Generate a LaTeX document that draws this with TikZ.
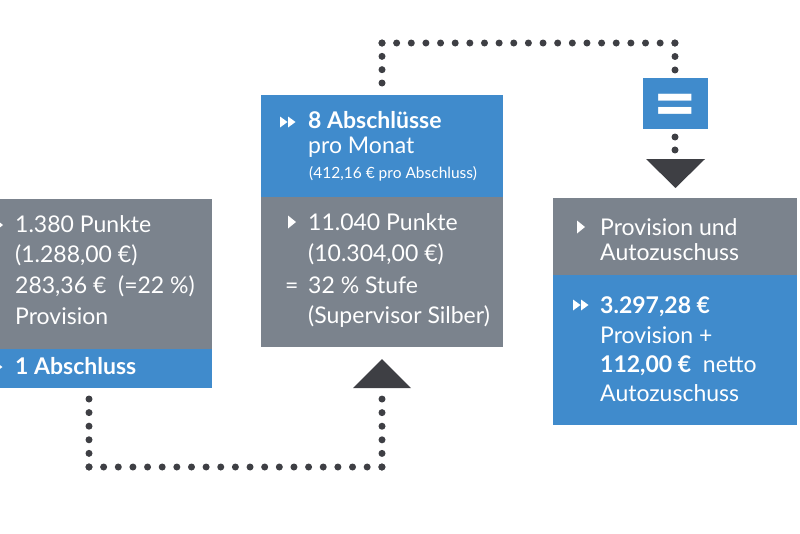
\documentclass[tikz,border=0pt]{standalone}
\usepackage{fontspec}
\setmainfont{Lato}
\usetikzlibrary{positioning,calc}
\definecolor{kblue}{RGB}{64,139,204}
\definecolor{kgray}{RGB}{123,131,141}
\definecolor{kdark}{RGB}{62,63,68}
\newcommand*{\onetri}[1]{\fill[white] ($(#1)+(0,-6.5)$) -- ++(8,6.5) -- ++(-8,6.5) -- cycle;}
\newcommand*{\twotri}[1]{\fill[white] ($(#1)+(0,-5.5)$) -- ++(7.5,5.5) -- ++(-7.5,5.5) -- cycle
  ($(#1)+(8,-5.5)$) -- ++(7.5,5.5) -- ++(-7.5,5.5) -- cycle;}

\begin{document}
\begin{tikzpicture}[x=1pt,y=-1pt,
    box/.style={rectangle,inner sep=0pt,anchor=north west},
    bluebox/.style={box,fill=kblue},
    graybox/.style={box,fill=kgray},
    txt/.style={anchor=base west,inner sep=0pt,text=white,font=\fontsize{23}{27}\selectfont},
    btxt/.style={txt,font=\fontsize{23}{27}\selectfont\bfseries},
    stxt/.style={txt,font=\fontsize{15.5}{18}\selectfont},
    dotrow/.style={draw=kdark,line width=7pt,line cap=round,dash pattern=on 0pt off #1}]
    \useasboundingbox (0,0) rectangle (800,533);

    % dotted connectors
    \coordinate (b1) at (89,399);
    \coordinate (b2) at (89,467);
    \coordinate (b3) at (382,467);
    \coordinate (b4) at (382,399);
    \draw[dotrow=13.59pt] (b1)--(b2);
    \draw[dotrow=14.64pt] (b2)--(b3);
    \draw[dotrow=13.59pt] (b3)--(b4);

    \coordinate (t1) at (382,83);
    \coordinate (t2) at (382,43);
    \coordinate (t3) at (675,43);
    \coordinate (t4) at (675,70);
    \coordinate (t5) at (675,137);
    \coordinate (t6) at (675,150);
    \draw[dotrow=13.32pt] (t1)--(t2);
    \draw[dotrow=14.64pt] (t2)--(t3);
    \draw[dotrow=13.49pt] (t3)--(t4);
    \draw[dotrow=12.99pt] (t5)--(t6);

    % triangles
    \fill[kdark] (353,388)--(411,388)--(382,359)--cycle;
    \fill[kdark] (646,159)--(705,159)--(675.5,188)--cycle;

    % left box
    \node[graybox,minimum width=252pt,minimum height=150pt] (lgray) at (-40,199) {};
    \node[bluebox,minimum width=252pt,minimum height=39pt] (lblue) at (-40,349) {};
    \onetri{-5,225}
    \twotri{-13,367}
    \node[txt] (l1) at (15,232) {1.380 Punkte};
    \node[txt] (l2) at (15,262) {(1.288,00 €)};
    \node[txt] (l3) at (15,293) {283,36 €\ \ (=22 \%)};
    \node[txt] (l4) at (15,324) {Provision};
    \node[btxt] (l5) at (15,374) {1 Abschluss};

    % middle box
    \node[bluebox,minimum width=242pt,minimum height=102pt] (mblue) at (261,95) {};
    \node[graybox,minimum width=242pt,minimum height=150pt] (mgray) at (261,197) {};
    \twotri{280,122}
    \node[btxt] (m1) at (308,128) {8 Abschlüsse};
    \node[txt] (m2) at (308,153) {pro Monat};
    \node[stxt] (m3) at (309,178) {(412,16 € pro Abschluss)};
    \onetri{288,222}
    \node[txt] (m4) at (308,230) {11.040 Punkte};
    \node[txt] (m5) at (308,261) {(10.304,00 €)};
    \node[txt] (m6) at (285,293) {=};
    \node[txt] (m7) at (308,293) {32 \% Stufe};
    \node[txt] (m8) at (308,323) {(Supervisor Silber)};

    % equals box
    \node[bluebox,minimum width=65pt,minimum height=51pt] (eq) at (643,78) {};
    \node[text=white,inner sep=0pt,font=\fontsize{75}{75}\selectfont\bfseries] (eqsign) at ($(eq.center)+(0,8)$) {=};

    % right box
    \node[graybox,minimum width=244pt,minimum height=77pt] (rgray) at (553,198) {};
    \node[bluebox,minimum width=244pt,minimum height=150pt] (rblue) at (553,275) {};
    \onetri{577,227}
    \node[txt] (r1) at (600,235) {Provision und};
    \node[txt] (r2) at (600,260) {Autozuschuss};
    \twotri{573,305}
    \node[btxt] (r3) at (600,313) {3.297,28 €};
    \node[txt] (r4) at (600,343) {Provision +};
    \node[txt] (r5) at (600,372) {\textbf{112,00 €}\ \ netto};
    \node[txt] (r6) at (600,401) {Autozuschuss};
\end{tikzpicture}
\end{document}
